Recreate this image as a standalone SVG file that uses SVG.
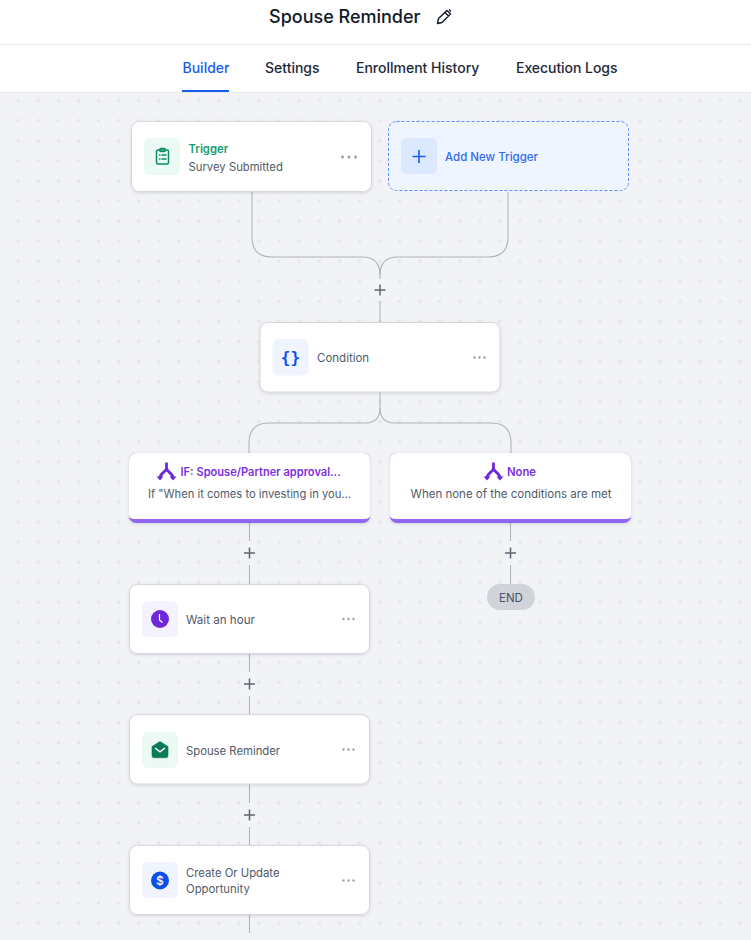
<svg xmlns="http://www.w3.org/2000/svg" width="751" height="940" viewBox="0 0 751 940">
<style>
text{font-family:Inter,"Liberation Sans",sans-serif}
.card{fill:#fff;stroke:#d6d8de;stroke-width:1;filter:url(#sh)}
.wire{fill:none;stroke:#b0b3b9;stroke-width:1.1}
.plus{stroke:#5d6673;stroke-width:1.5;fill:none}
.gap{fill:#f2f4f7}
.lbl{font-size:11.3px;fill:#505a6a}
.tab{font-size:14px;font-weight:500;fill:#1d2939}
.more{fill:#98a2b3}
.ic{fill:none;stroke-linecap:round;stroke-linejoin:round}
</style>
<defs>
<pattern id="dots" x="8.3" y="90.7" width="20.06" height="20.06" patternUnits="userSpaceOnUse"><circle cx="10" cy="10" r="1.9" fill="#e6e7eb"/></pattern>
<filter id="sh" x="-5%" y="-15%" width="110%" height="130%"><feDropShadow dx="0" dy="1" stdDeviation="1.5" flood-color="#101828" flood-opacity="0.14"/></filter>
<g id="dm"><circle cx="0" cy="0" r="1.5"/><circle cx="6.500" cy="0" r="1.500"/><circle cx="13" cy="0" r="1.500"/></g>
<g id="dms"><circle cx="0" cy="0" r="1.200"/><circle cx="5" cy="0" r="1.200"/><circle cx="10" cy="0" r="1.200"/></g>
<g id="fork"><path d="M0-8.500V-3C0 1-6.500 2-6.500 7M0-3C0 1 6.500 2 6.500 7" fill="none" stroke="#6d28d9" stroke-width="2.800"/><path d="M-10 5.500H-3L-6.500 9.500ZM3 5.500H10L6.500 9.500Z" fill="#6d28d9"/></g>
</defs>
<rect width="751" height="940" fill="#f2f3f7"/>
<rect y="93" width="751" height="847" fill="url(#dots)"/>
<g id="header">
<rect width="751" height="44" fill="#fff"/>
<rect y="44" width="751" height="1" fill="#e8e9ec"/>
<rect y="45" width="751" height="47" fill="#fff"/>
<rect y="92" width="751" height="1" fill="#e8e9ec"/>
<text x="269" y="23" font-size="18" font-weight="500" fill="#101828">Spouse Reminder</text>
<path d="M437.500 23.500L438.500 18.500L447 10.500L450.500 14L442 22.500ZM445 12.500L448.500 16M449 9.500L451 11.500" fill="none" stroke="#101828" stroke-width="1.400" stroke-linejoin="round"/>
<text x="182.500" y="73" class="tab" style="fill:#155eef">Builder</text>
<rect x="182" y="90" width="47" height="2" fill="#155eef"/>
<text x="265" y="73" class="tab">Settings</text>
<text x="356" y="73" class="tab">Enrollment History</text>
<text x="516" y="73" class="tab" textLength="101.500">Execution Logs</text>
</g>
<g id="connectors">
<path class="wire" d="M252 192V237Q252 257 272 257H362Q380 257 380 275V322"/>
<path class="wire" d="M508 192V237Q508 257 488 257H398Q380 257 380 275"/>
<path class="wire" d="M380 392V408Q380 423 365 423H269Q249 423 249 443V454"/>
<path class="wire" d="M380 408Q380 423 395 423H491Q511 423 511 443V454"/>
<path class="wire" d="M249.500 522V585M249.500 654V715M249.500 784V846M249.500 915V933M510.500 522V585"/>
<rect class="gap" x="372" y="279" width="16" height="22"/>
<rect class="gap" x="241" y="541" width="16" height="24"/>
<rect class="gap" x="502" y="541" width="16" height="24"/>
<rect class="gap" x="241" y="672" width="16" height="24"/>
<rect class="gap" x="241" y="803" width="16" height="24"/>
<path class="plus" d="M374.500 290H385.500M380 284.500V295.500M244 553H255M249.500 547.500V558.500M505 553H516M510.500 547.500V558.500M244 684H255M249.500 678.500V689.500M244 815H255M249.500 809.500V820.500"/>
</g>
<g id="trigger">
<rect class="card" x="131.500" y="121.500" width="240" height="70" rx="8"/>
<rect x="144" y="138" width="36" height="37" rx="6" fill="#ebfbf3"/>
<g class="ic" stroke="#0a8f63" stroke-width="1.500"><rect x="156.500" y="150" width="12" height="14" rx="1.500"/><rect x="159.800" y="148.500" width="5.500" height="3" rx="1"/><path d="M159.500 155H160M162 155H166M159.500 159H160M162 159H166"/></g>
<text x="188.500" y="153" font-size="11.300" font-weight="600" fill="#12a071">Trigger</text>
<text x="188.500" y="171" class="lbl">Survey Submitted</text>
<use href="#dm" x="342.500" y="157" class="more"/>
</g>
<g id="add-trigger">
<rect x="388.500" y="121.500" width="240" height="69" rx="8" fill="#eff5ff" stroke="#5f8ffa" stroke-width="1" stroke-dasharray="3 2"/>
<rect x="401" y="138" width="36" height="36" rx="6" fill="#dbe8fe"/>
<path d="M419 150V163M412.500 156.500H425.500" stroke="#155eef" stroke-width="1.600" fill="none"/>
<text x="445" y="161" font-size="11.500" font-weight="500" fill="#2f6bf0">Add New Trigger</text>
</g>
<g id="condition">
<rect class="card" x="260" y="322.500" width="240" height="69.500" rx="8"/>
<rect x="272.500" y="339" width="36" height="36.500" rx="6" fill="#eff4ff"/>
<text x="290.500" y="363" font-size="16" font-weight="700" fill="#0b50f0" text-anchor="middle" style="font-family:'DejaVu Sans Mono',monospace">{}</text>
<text x="317" y="362" class="lbl" style="font-size:11.500px">Condition</text>
<use href="#dms" x="474.500" y="357.500" class="more"/>
</g>
<g id="branch-if">
<rect x="129" y="453" width="241" height="70" rx="7" fill="#9066f5" filter="url(#sh)"/>
<path d="M129 460a7 7 0 0 1 7-7H363a7 7 0 0 1 7 7V515Q370 519 364 519H135Q129 519 129 515Z" fill="#fff"/>
<use href="#fork" x="166.500" y="471"/>
<text x="180.500" y="476" font-size="11.100" font-weight="600" fill="#7c2fe0">IF: Spouse/Partner approval...</text>
<text x="249.500" y="498" class="lbl" style="font-size:11.200px" text-anchor="middle">If "When it comes to investing in you...</text>
</g>
<g id="branch-none">
<rect x="390" y="453" width="241" height="70" rx="7" fill="#9066f5" filter="url(#sh)"/>
<path d="M390 460a7 7 0 0 1 7-7H624a7 7 0 0 1 7 7V515Q631 519 625 519H396Q390 519 390 515Z" fill="#fff"/>
<use href="#fork" x="493.500" y="471"/>
<text x="507" y="476" font-size="11.300" font-weight="600" fill="#7c2fe0">None</text>
<text x="511" y="498" class="lbl" style="font-size:11.500px" text-anchor="middle">When none of the conditions are met</text>
</g>
<g id="wait">
<rect class="card" x="129.500" y="584.500" width="240" height="69" rx="8"/>
<rect x="142" y="601" width="36" height="36" rx="6" fill="#f5f2ff"/>
<circle cx="160" cy="619" r="9" fill="#6d28d9"/>
<path d="M159.500 614V620L162.500 622.500" fill="none" stroke="#fff" stroke-width="1.200"/>
<text x="186" y="624" class="lbl" style="font-size:11.600px">Wait an hour</text>
<use href="#dms" x="343.500" y="619" class="more"/>
</g>
<g id="email">
<rect class="card" x="129.500" y="714.700" width="240" height="69.300" rx="8"/>
<rect x="142" y="732" width="36" height="36" rx="6" fill="#ebfbf3"/>
<path d="M152 746.500L160 741.500 168 746.500V755.800a2 2 0 0 1-2 2H154a2 2 0 0 1-2-2Z" fill="#0b7a58" stroke="#0b7a58" stroke-width=".6" stroke-linejoin="round"/>
<path d="M155 748L160 751.800 165 748" fill="none" stroke="#fff" stroke-width="1.500"/>
<text x="186" y="755" class="lbl">Spouse Reminder</text>
<use href="#dms" x="343.500" y="749.500" class="more"/>
</g>
<g id="opportunity">
<rect class="card" x="129.500" y="845.500" width="240" height="69" rx="8"/>
<rect x="142" y="862" width="36" height="36" rx="6" fill="#eff4ff"/>
<circle cx="160" cy="880.500" r="9" fill="#0b50e8"/>
<text x="160" y="884.800" font-size="12" font-weight="500" fill="#fff" text-anchor="middle">$</text>
<text x="186" y="877" class="lbl">Create Or Update</text>
<text x="186" y="893" class="lbl">Opportunity</text>
<use href="#dms" x="343.500" y="880.500" class="more"/>
</g>
<g id="end">
<rect x="487" y="584" width="48" height="26" rx="13" fill="#d0d3da"/>
<text x="511" y="602" font-size="11.500" fill="#475467" text-anchor="middle">END</text>
</g>
</svg>
